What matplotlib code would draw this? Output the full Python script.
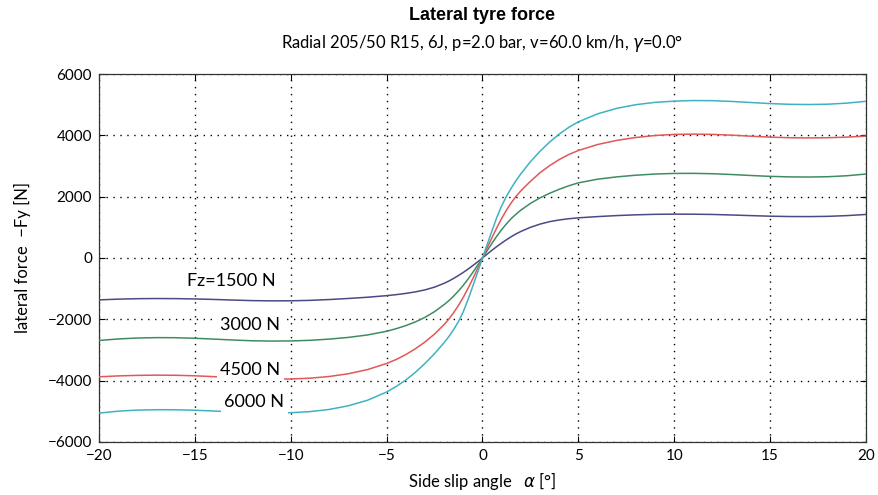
import numpy as np
import matplotlib.pyplot as plt

# ── Data: lateral force vs. side slip angle, four wheel loads ───────────
alpha = [-20, -19, -18, -17, -16, -15, -14, -13, -12, -11, -10, -9, -8, -7, -6,
         -5, -4.5, -4, -3.5, -3, -2.5, -2, -1.75, -1.5, -1.25, -1, -0.75, -0.5, -0.25,
         0,
         0.25, 0.5, 0.75, 1, 1.25, 1.5, 1.75, 2, 2.5, 3, 3.5, 4, 4.5, 5,
         6, 7, 8, 9, 10, 11, 12, 13, 14, 15, 16, 17, 18, 19, 20]

fy_1500 = [-1366, -1342, -1327, -1322, -1325, -1335, -1352, -1372, -1390, -1398,
           -1396, -1382, -1355, -1320, -1280, -1228, -1195, -1155, -1105, -1040,
           -950, -825, -750, -665, -570, -470, -360, -245, -125,
           0,
           130, 255, 375, 488, 595, 695, 785, 865, 1000, 1105, 1185, 1240, 1280,
           1310, 1350, 1383, 1408, 1424, 1430, 1428, 1420, 1402, 1382, 1363, 1352,
           1350, 1358, 1382, 1420]
fy_3000 = [-2690, -2640, -2610, -2597, -2600, -2618, -2645, -2675, -2700, -2710,
           -2705, -2685, -2645, -2590, -2510, -2390, -2305, -2205, -2085, -1935,
           -1750, -1520, -1390, -1240, -1075, -890, -685, -465, -235,
           0,
           245, 485, 715, 925, 1115, 1285, 1430, 1560, 1780, 1960, 2110, 2240, 2355,
           2450, 2570, 2645, 2700, 2738, 2758, 2760, 2748, 2722, 2690, 2662, 2645,
           2640, 2650, 2682, 2738]
fy_4500 = [-3875, -3845, -3828, -3820, -3825, -3842, -3870, -3905, -3935, -3950,
           -3945, -3920, -3865, -3775, -3640, -3440, -3310, -3150, -2960, -2740,
           -2480, -2170, -1990, -1780, -1545, -1280, -985, -670, -340,
           0,
           340, 670, 990, 1290, 1560, 1800, 2010, 2190, 2500, 2780, 3010, 3210, 3375,
           3505, 3700, 3835, 3930, 3995, 4030, 4040, 4030, 4005, 3972, 3942, 3922,
           3915, 3922, 3942, 3975]
fy_6000 = [-5060, -4995, -4960, -4948, -4950, -4965, -4990, -5020, -5045, -5055,
           -5045, -5010, -4940, -4820, -4640, -4370, -4190, -3980, -3730, -3440,
           -3120, -2760, -2560, -2330, -2070, -1750, -1350, -910, -460,
           0,
           450, 895, 1330, 1700, 2010, 2280, 2525, 2745, 3140, 3480, 3780, 4040, 4260,
           4440, 4700, 4880, 5000, 5075, 5115, 5135, 5130, 5105, 5070, 5035, 5012,
           5005, 5015, 5050, 5110]

series = [
    (fy_1500, '#4a4a86'),
    (fy_3000, '#3f8c62'),
    (fy_4500, '#e05858'),
    (fy_6000, '#3fb2c2'),
]

load_labels = ['Fz=1500 N', '3000 N', '4500 N', '6000 N']
label_x = [-13.1, -12.1, -12.1, -11.9]
label_y = [-760, -2200, -3650, -4700]

# ── Figure ────────────────────────────────────────────────────
plt.rcParams['font.family'] = ['Lato', 'DejaVu Sans']
plt.rcParams['mathtext.fontset'] = 'dejavusans'

fig = plt.figure(figsize=(8.79, 4.95), dpi=100)
ax = fig.add_axes([0.1126, 0.1071, 0.8726, 0.7434])

for fy, col in series:
    ax.plot(alpha, fy, color=col, linewidth=1.1, zorder=3,
            solid_joinstyle='round')

for txt, lx, ly in zip(load_labels, label_x, label_y):
    ax.text(lx, ly, txt, fontsize=13, ha='center', va='center', zorder=5,
            bbox=dict(facecolor='white', edgecolor='none', pad=2.5))

ax.set_xlim(-20, 20)
ax.set_ylim(-6000, 6000)
ax.set_xticks(np.arange(-20, 21, 5))
ax.set_yticks(np.arange(-6000, 6001, 2000))
ax.set_xticklabels([str(v).replace('-', '\u2212') for v in range(-20, 21, 5)])
ax.set_yticklabels([str(v).replace('-', '\u2212') for v in range(-6000, 6001, 2000)])
ax.tick_params(direction='in', top=True, right=True, labelsize=11, length=4,
               width=0.8, pad=5)
ax.grid(True, color='black', linestyle=(0, (1, 4)), linewidth=1.0)
ax.set_axisbelow(True)
for sp in ax.spines.values():
    sp.set_linewidth(0.9)
    sp.set_color('#333333')

ax.set_xlabel('Side slip angle   $\\alpha$ [°]', fontsize=12, labelpad=5)
ax.set_ylabel('lateral force  \u2212Fy [N]', fontsize=12, labelpad=12)

cx = 0.1126 + 0.8726 / 2
fig.text(cx, 1 - 16 / 495, 'Lateral tyre force', ha='center', va='center',
         fontsize=13, fontweight='bold', family='Liberation Sans')
fig.text(cx, 1 - 43 / 495,
         'Radial 205/50 R15, 6J, p=2.0 bar, v=60.0 km/h, $\\gamma$=0.0°',
         ha='center', va='center', fontsize=12)

fig.savefig('out.png', dpi=100)
